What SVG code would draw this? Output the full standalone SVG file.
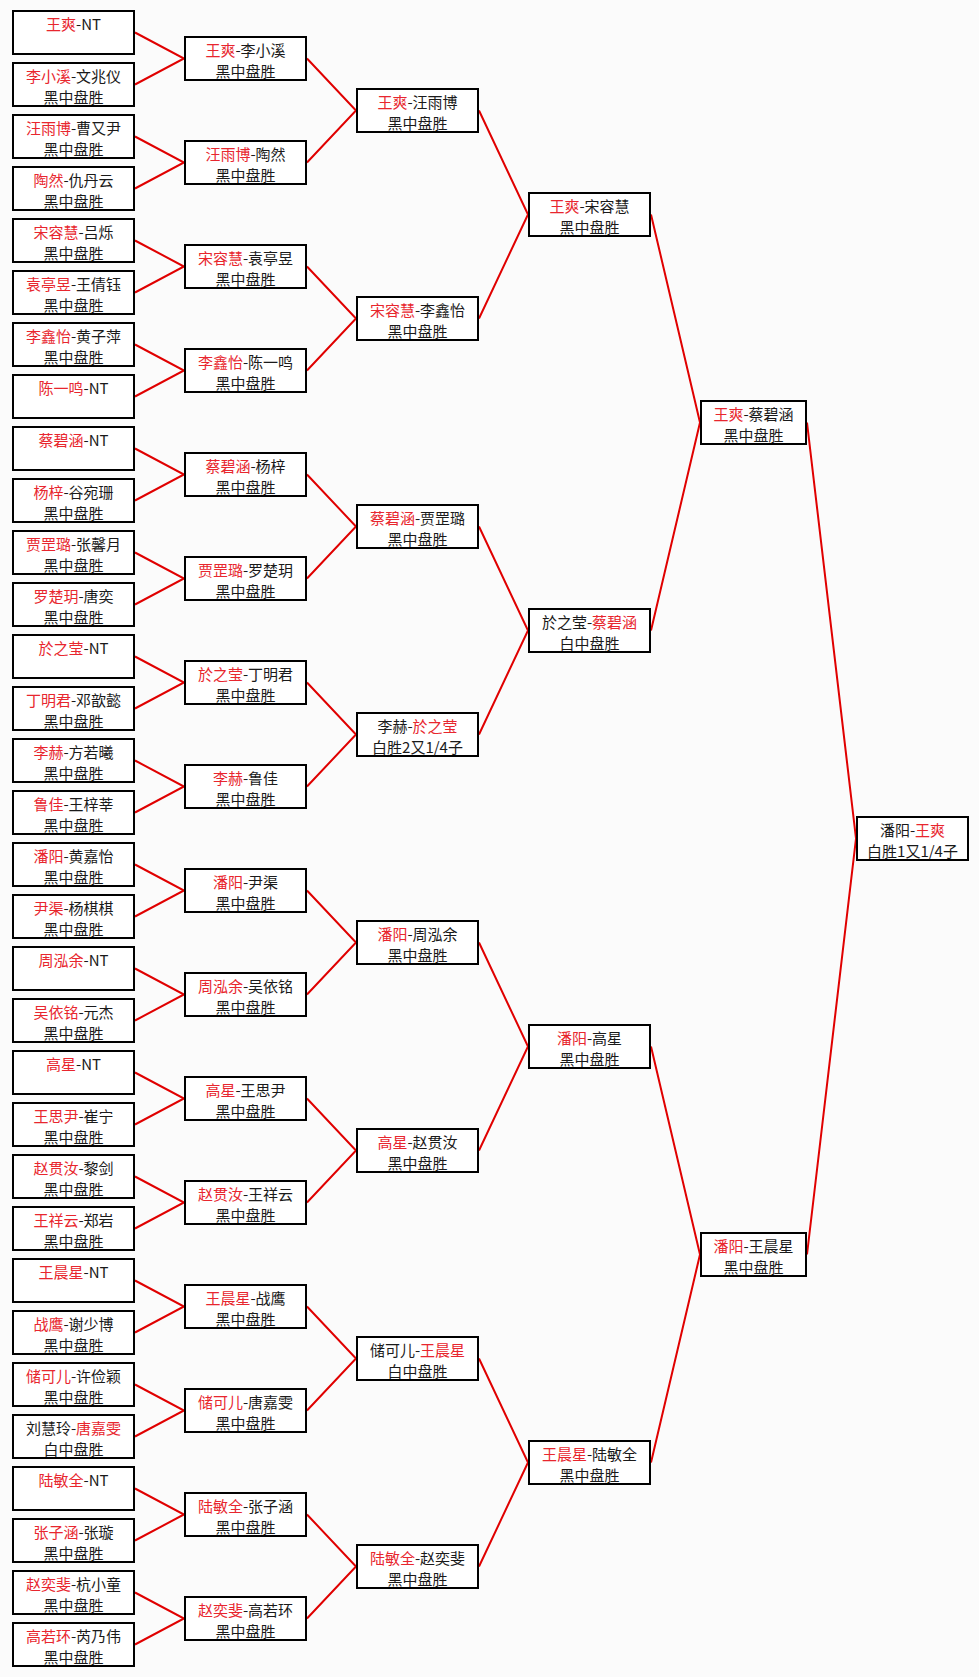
<svg xmlns="http://www.w3.org/2000/svg" width="979" height="1677" viewBox="0 0 979 1677">
<style>
.bg{fill:#fbfbfb}
.b{fill:#fff;stroke:#000;stroke-width:2}
.t{font-family:"Noto Sans CJK SC",sans-serif;font-size:15px;text-anchor:middle;fill:#1a1a1a}
.r{fill:#e8262e}
.c path{fill:none;stroke:#e00000;stroke-width:2}
</style>
<rect class="bg" x="0" y="0" width="979" height="1677"/>
<g id="connectors" class="c">
<path d="M135,32.5 L184,58.5 L135,84.5"/>
<path d="M135,136.5 L184,162.5 L135,188.5"/>
<path d="M135,240.5 L184,266.5 L135,292.5"/>
<path d="M135,344.5 L184,370.5 L135,396.5"/>
<path d="M135,448.5 L184,474.5 L135,500.5"/>
<path d="M135,552.5 L184,578.5 L135,604.5"/>
<path d="M135,656.5 L184,682.5 L135,708.5"/>
<path d="M135,760.5 L184,786.5 L135,812.5"/>
<path d="M135,864.5 L184,890.5 L135,916.5"/>
<path d="M135,968.5 L184,994.5 L135,1020.5"/>
<path d="M135,1072.5 L184,1098.5 L135,1124.5"/>
<path d="M135,1176.5 L184,1202.5 L135,1228.5"/>
<path d="M135,1280.5 L184,1306.5 L135,1332.5"/>
<path d="M135,1384.5 L184,1410.5 L135,1436.5"/>
<path d="M135,1488.5 L184,1514.5 L135,1540.5"/>
<path d="M135,1592.5 L184,1618.5 L135,1644.5"/>
<path d="M307,58.5 L356,110.5 L307,162.5"/>
<path d="M307,266.5 L356,318.5 L307,370.5"/>
<path d="M307,474.5 L356,526.5 L307,578.5"/>
<path d="M307,682.5 L356,734.5 L307,786.5"/>
<path d="M307,890.5 L356,942.5 L307,994.5"/>
<path d="M307,1098.5 L356,1150.5 L307,1202.5"/>
<path d="M307,1306.5 L356,1358.5 L307,1410.5"/>
<path d="M307,1514.5 L356,1566.5 L307,1618.5"/>
<path d="M479,110.5 L528,214.5 L479,318.5"/>
<path d="M479,526.5 L528,630.5 L479,734.5"/>
<path d="M479,942.5 L528,1046.5 L479,1150.5"/>
<path d="M479,1358.5 L528,1462.5 L479,1566.5"/>
<path d="M651,214.5 L700,422.5 L651,630.5"/>
<path d="M651,1046.5 L700,1254.5 L651,1462.5"/>
<path d="M807,422.5 L856,838.5 L807,1254.5"/>
</g>
<g id="r1-01" transform="translate(12,10)"><rect class="b" x="1" y="1" width="121" height="43"/><text class="t" x="61.5" y="20"><tspan class="r">王爽</tspan>-NT</text></g>
<g id="r1-02" transform="translate(12,62)"><rect class="b" x="1" y="1" width="121" height="43"/><text class="t" x="61.5" y="20"><tspan class="r">李小溪</tspan>-文兆仪</text><text class="t" x="61.5" y="40.5">黑中盘胜</text></g>
<g id="r1-03" transform="translate(12,114)"><rect class="b" x="1" y="1" width="121" height="43"/><text class="t" x="61.5" y="20"><tspan class="r">汪雨博</tspan>-曹又尹</text><text class="t" x="61.5" y="40.5">黑中盘胜</text></g>
<g id="r1-04" transform="translate(12,166)"><rect class="b" x="1" y="1" width="121" height="43"/><text class="t" x="61.5" y="20"><tspan class="r">陶然</tspan>-仇丹云</text><text class="t" x="61.5" y="40.5">黑中盘胜</text></g>
<g id="r1-05" transform="translate(12,218)"><rect class="b" x="1" y="1" width="121" height="43"/><text class="t" x="61.5" y="20"><tspan class="r">宋容慧</tspan>-吕烁</text><text class="t" x="61.5" y="40.5">黑中盘胜</text></g>
<g id="r1-06" transform="translate(12,270)"><rect class="b" x="1" y="1" width="121" height="43"/><text class="t" x="61.5" y="20"><tspan class="r">袁亭昱</tspan>-王倩钰</text><text class="t" x="61.5" y="40.5">黑中盘胜</text></g>
<g id="r1-07" transform="translate(12,322)"><rect class="b" x="1" y="1" width="121" height="43"/><text class="t" x="61.5" y="20"><tspan class="r">李鑫怡</tspan>-黄子萍</text><text class="t" x="61.5" y="40.5">黑中盘胜</text></g>
<g id="r1-08" transform="translate(12,374)"><rect class="b" x="1" y="1" width="121" height="43"/><text class="t" x="61.5" y="20"><tspan class="r">陈一鸣</tspan>-NT</text></g>
<g id="r1-09" transform="translate(12,426)"><rect class="b" x="1" y="1" width="121" height="43"/><text class="t" x="61.5" y="20"><tspan class="r">蔡碧涵</tspan>-NT</text></g>
<g id="r1-10" transform="translate(12,478)"><rect class="b" x="1" y="1" width="121" height="43"/><text class="t" x="61.5" y="20"><tspan class="r">杨梓</tspan>-谷宛珊</text><text class="t" x="61.5" y="40.5">黑中盘胜</text></g>
<g id="r1-11" transform="translate(12,530)"><rect class="b" x="1" y="1" width="121" height="43"/><text class="t" x="61.5" y="20"><tspan class="r">贾罡璐</tspan>-张馨月</text><text class="t" x="61.5" y="40.5">黑中盘胜</text></g>
<g id="r1-12" transform="translate(12,582)"><rect class="b" x="1" y="1" width="121" height="43"/><text class="t" x="61.5" y="20"><tspan class="r">罗楚玥</tspan>-唐奕</text><text class="t" x="61.5" y="40.5">黑中盘胜</text></g>
<g id="r1-13" transform="translate(12,634)"><rect class="b" x="1" y="1" width="121" height="43"/><text class="t" x="61.5" y="20"><tspan class="r">於之莹</tspan>-NT</text></g>
<g id="r1-14" transform="translate(12,686)"><rect class="b" x="1" y="1" width="121" height="43"/><text class="t" x="61.5" y="20"><tspan class="r">丁明君</tspan>-邓歆懿</text><text class="t" x="61.5" y="40.5">黑中盘胜</text></g>
<g id="r1-15" transform="translate(12,738)"><rect class="b" x="1" y="1" width="121" height="43"/><text class="t" x="61.5" y="20"><tspan class="r">李赫</tspan>-方若曦</text><text class="t" x="61.5" y="40.5">黑中盘胜</text></g>
<g id="r1-16" transform="translate(12,790)"><rect class="b" x="1" y="1" width="121" height="43"/><text class="t" x="61.5" y="20"><tspan class="r">鲁佳</tspan>-王梓莘</text><text class="t" x="61.5" y="40.5">黑中盘胜</text></g>
<g id="r1-17" transform="translate(12,842)"><rect class="b" x="1" y="1" width="121" height="43"/><text class="t" x="61.5" y="20"><tspan class="r">潘阳</tspan>-黄嘉怡</text><text class="t" x="61.5" y="40.5">黑中盘胜</text></g>
<g id="r1-18" transform="translate(12,894)"><rect class="b" x="1" y="1" width="121" height="43"/><text class="t" x="61.5" y="20"><tspan class="r">尹渠</tspan>-杨棋棋</text><text class="t" x="61.5" y="40.5">黑中盘胜</text></g>
<g id="r1-19" transform="translate(12,946)"><rect class="b" x="1" y="1" width="121" height="43"/><text class="t" x="61.5" y="20"><tspan class="r">周泓余</tspan>-NT</text></g>
<g id="r1-20" transform="translate(12,998)"><rect class="b" x="1" y="1" width="121" height="43"/><text class="t" x="61.5" y="20"><tspan class="r">吴依铭</tspan>-元杰</text><text class="t" x="61.5" y="40.5">黑中盘胜</text></g>
<g id="r1-21" transform="translate(12,1050)"><rect class="b" x="1" y="1" width="121" height="43"/><text class="t" x="61.5" y="20"><tspan class="r">高星</tspan>-NT</text></g>
<g id="r1-22" transform="translate(12,1102)"><rect class="b" x="1" y="1" width="121" height="43"/><text class="t" x="61.5" y="20"><tspan class="r">王思尹</tspan>-崔宁</text><text class="t" x="61.5" y="40.5">黑中盘胜</text></g>
<g id="r1-23" transform="translate(12,1154)"><rect class="b" x="1" y="1" width="121" height="43"/><text class="t" x="61.5" y="20"><tspan class="r">赵贯汝</tspan>-黎剑</text><text class="t" x="61.5" y="40.5">黑中盘胜</text></g>
<g id="r1-24" transform="translate(12,1206)"><rect class="b" x="1" y="1" width="121" height="43"/><text class="t" x="61.5" y="20"><tspan class="r">王祥云</tspan>-郑岩</text><text class="t" x="61.5" y="40.5">黑中盘胜</text></g>
<g id="r1-25" transform="translate(12,1258)"><rect class="b" x="1" y="1" width="121" height="43"/><text class="t" x="61.5" y="20"><tspan class="r">王晨星</tspan>-NT</text></g>
<g id="r1-26" transform="translate(12,1310)"><rect class="b" x="1" y="1" width="121" height="43"/><text class="t" x="61.5" y="20"><tspan class="r">战鹰</tspan>-谢少博</text><text class="t" x="61.5" y="40.5">黑中盘胜</text></g>
<g id="r1-27" transform="translate(12,1362)"><rect class="b" x="1" y="1" width="121" height="43"/><text class="t" x="61.5" y="20"><tspan class="r">储可儿</tspan>-许俭颖</text><text class="t" x="61.5" y="40.5">黑中盘胜</text></g>
<g id="r1-28" transform="translate(12,1414)"><rect class="b" x="1" y="1" width="121" height="43"/><text class="t" x="61.5" y="20">刘慧玲-<tspan class="r">唐嘉雯</tspan></text><text class="t" x="61.5" y="40.5">白中盘胜</text></g>
<g id="r1-29" transform="translate(12,1466)"><rect class="b" x="1" y="1" width="121" height="43"/><text class="t" x="61.5" y="20"><tspan class="r">陆敏全</tspan>-NT</text></g>
<g id="r1-30" transform="translate(12,1518)"><rect class="b" x="1" y="1" width="121" height="43"/><text class="t" x="61.5" y="20"><tspan class="r">张子涵</tspan>-张璇</text><text class="t" x="61.5" y="40.5">黑中盘胜</text></g>
<g id="r1-31" transform="translate(12,1570)"><rect class="b" x="1" y="1" width="121" height="43"/><text class="t" x="61.5" y="20"><tspan class="r">赵奕斐</tspan>-杭小童</text><text class="t" x="61.5" y="40.5">黑中盘胜</text></g>
<g id="r1-32" transform="translate(12,1622)"><rect class="b" x="1" y="1" width="121" height="43"/><text class="t" x="61.5" y="20"><tspan class="r">高若环</tspan>-芮乃伟</text><text class="t" x="61.5" y="40.5">黑中盘胜</text></g>
<g id="r2-01" transform="translate(184,36)"><rect class="b" x="1" y="1" width="121" height="43"/><text class="t" x="61.5" y="20"><tspan class="r">王爽</tspan>-李小溪</text><text class="t" x="61.5" y="40.5">黑中盘胜</text></g>
<g id="r2-02" transform="translate(184,140)"><rect class="b" x="1" y="1" width="121" height="43"/><text class="t" x="61.5" y="20"><tspan class="r">汪雨博</tspan>-陶然</text><text class="t" x="61.5" y="40.5">黑中盘胜</text></g>
<g id="r2-03" transform="translate(184,244)"><rect class="b" x="1" y="1" width="121" height="43"/><text class="t" x="61.5" y="20"><tspan class="r">宋容慧</tspan>-袁亭昱</text><text class="t" x="61.5" y="40.5">黑中盘胜</text></g>
<g id="r2-04" transform="translate(184,348)"><rect class="b" x="1" y="1" width="121" height="43"/><text class="t" x="61.5" y="20"><tspan class="r">李鑫怡</tspan>-陈一鸣</text><text class="t" x="61.5" y="40.5">黑中盘胜</text></g>
<g id="r2-05" transform="translate(184,452)"><rect class="b" x="1" y="1" width="121" height="43"/><text class="t" x="61.5" y="20"><tspan class="r">蔡碧涵</tspan>-杨梓</text><text class="t" x="61.5" y="40.5">黑中盘胜</text></g>
<g id="r2-06" transform="translate(184,556)"><rect class="b" x="1" y="1" width="121" height="43"/><text class="t" x="61.5" y="20"><tspan class="r">贾罡璐</tspan>-罗楚玥</text><text class="t" x="61.5" y="40.5">黑中盘胜</text></g>
<g id="r2-07" transform="translate(184,660)"><rect class="b" x="1" y="1" width="121" height="43"/><text class="t" x="61.5" y="20"><tspan class="r">於之莹</tspan>-丁明君</text><text class="t" x="61.5" y="40.5">黑中盘胜</text></g>
<g id="r2-08" transform="translate(184,764)"><rect class="b" x="1" y="1" width="121" height="43"/><text class="t" x="61.5" y="20"><tspan class="r">李赫</tspan>-鲁佳</text><text class="t" x="61.5" y="40.5">黑中盘胜</text></g>
<g id="r2-09" transform="translate(184,868)"><rect class="b" x="1" y="1" width="121" height="43"/><text class="t" x="61.5" y="20"><tspan class="r">潘阳</tspan>-尹渠</text><text class="t" x="61.5" y="40.5">黑中盘胜</text></g>
<g id="r2-10" transform="translate(184,972)"><rect class="b" x="1" y="1" width="121" height="43"/><text class="t" x="61.5" y="20"><tspan class="r">周泓余</tspan>-吴依铭</text><text class="t" x="61.5" y="40.5">黑中盘胜</text></g>
<g id="r2-11" transform="translate(184,1076)"><rect class="b" x="1" y="1" width="121" height="43"/><text class="t" x="61.5" y="20"><tspan class="r">高星</tspan>-王思尹</text><text class="t" x="61.5" y="40.5">黑中盘胜</text></g>
<g id="r2-12" transform="translate(184,1180)"><rect class="b" x="1" y="1" width="121" height="43"/><text class="t" x="61.5" y="20"><tspan class="r">赵贯汝</tspan>-王祥云</text><text class="t" x="61.5" y="40.5">黑中盘胜</text></g>
<g id="r2-13" transform="translate(184,1284)"><rect class="b" x="1" y="1" width="121" height="43"/><text class="t" x="61.5" y="20"><tspan class="r">王晨星</tspan>-战鹰</text><text class="t" x="61.5" y="40.5">黑中盘胜</text></g>
<g id="r2-14" transform="translate(184,1388)"><rect class="b" x="1" y="1" width="121" height="43"/><text class="t" x="61.5" y="20"><tspan class="r">储可儿</tspan>-唐嘉雯</text><text class="t" x="61.5" y="40.5">黑中盘胜</text></g>
<g id="r2-15" transform="translate(184,1492)"><rect class="b" x="1" y="1" width="121" height="43"/><text class="t" x="61.5" y="20"><tspan class="r">陆敏全</tspan>-张子涵</text><text class="t" x="61.5" y="40.5">黑中盘胜</text></g>
<g id="r2-16" transform="translate(184,1596)"><rect class="b" x="1" y="1" width="121" height="43"/><text class="t" x="61.5" y="20"><tspan class="r">赵奕斐</tspan>-高若环</text><text class="t" x="61.5" y="40.5">黑中盘胜</text></g>
<g id="r3-01" transform="translate(356,88)"><rect class="b" x="1" y="1" width="121" height="43"/><text class="t" x="61.5" y="20"><tspan class="r">王爽</tspan>-汪雨博</text><text class="t" x="61.5" y="40.5">黑中盘胜</text></g>
<g id="r3-02" transform="translate(356,296)"><rect class="b" x="1" y="1" width="121" height="43"/><text class="t" x="61.5" y="20"><tspan class="r">宋容慧</tspan>-李鑫怡</text><text class="t" x="61.5" y="40.5">黑中盘胜</text></g>
<g id="r3-03" transform="translate(356,504)"><rect class="b" x="1" y="1" width="121" height="43"/><text class="t" x="61.5" y="20"><tspan class="r">蔡碧涵</tspan>-贾罡璐</text><text class="t" x="61.5" y="40.5">黑中盘胜</text></g>
<g id="r3-04" transform="translate(356,712)"><rect class="b" x="1" y="1" width="121" height="43"/><text class="t" x="61.5" y="20">李赫-<tspan class="r">於之莹</tspan></text><text class="t" x="61.5" y="40.5">白胜2又1/4子</text></g>
<g id="r3-05" transform="translate(356,920)"><rect class="b" x="1" y="1" width="121" height="43"/><text class="t" x="61.5" y="20"><tspan class="r">潘阳</tspan>-周泓余</text><text class="t" x="61.5" y="40.5">黑中盘胜</text></g>
<g id="r3-06" transform="translate(356,1128)"><rect class="b" x="1" y="1" width="121" height="43"/><text class="t" x="61.5" y="20"><tspan class="r">高星</tspan>-赵贯汝</text><text class="t" x="61.5" y="40.5">黑中盘胜</text></g>
<g id="r3-07" transform="translate(356,1336)"><rect class="b" x="1" y="1" width="121" height="43"/><text class="t" x="61.5" y="20">储可儿-<tspan class="r">王晨星</tspan></text><text class="t" x="61.5" y="40.5">白中盘胜</text></g>
<g id="r3-08" transform="translate(356,1544)"><rect class="b" x="1" y="1" width="121" height="43"/><text class="t" x="61.5" y="20"><tspan class="r">陆敏全</tspan>-赵奕斐</text><text class="t" x="61.5" y="40.5">黑中盘胜</text></g>
<g id="r4-01" transform="translate(528,192)"><rect class="b" x="1" y="1" width="121" height="43"/><text class="t" x="61.5" y="20"><tspan class="r">王爽</tspan>-宋容慧</text><text class="t" x="61.5" y="40.5">黑中盘胜</text></g>
<g id="r4-02" transform="translate(528,608)"><rect class="b" x="1" y="1" width="121" height="43"/><text class="t" x="61.5" y="20">於之莹-<tspan class="r">蔡碧涵</tspan></text><text class="t" x="61.5" y="40.5">白中盘胜</text></g>
<g id="r4-03" transform="translate(528,1024)"><rect class="b" x="1" y="1" width="121" height="43"/><text class="t" x="61.5" y="20"><tspan class="r">潘阳</tspan>-高星</text><text class="t" x="61.5" y="40.5">黑中盘胜</text></g>
<g id="r4-04" transform="translate(528,1440)"><rect class="b" x="1" y="1" width="121" height="43"/><text class="t" x="61.5" y="20"><tspan class="r">王晨星</tspan>-陆敏全</text><text class="t" x="61.5" y="40.5">黑中盘胜</text></g>
<g id="r5-01" transform="translate(700,400)"><rect class="b" x="1" y="1" width="105" height="43"/><text class="t" x="53.5" y="20"><tspan class="r">王爽</tspan>-蔡碧涵</text><text class="t" x="53.5" y="40.5">黑中盘胜</text></g>
<g id="r5-02" transform="translate(700,1232)"><rect class="b" x="1" y="1" width="105" height="43"/><text class="t" x="53.5" y="20"><tspan class="r">潘阳</tspan>-王晨星</text><text class="t" x="53.5" y="40.5">黑中盘胜</text></g>
<g id="final" transform="translate(856,816)"><rect class="b" x="1" y="1" width="111" height="43"/><text class="t" x="56.5" y="20">潘阳-<tspan class="r">王爽</tspan></text><text class="t" x="56.5" y="40.5">白胜1又1/4子</text></g>
</svg>
